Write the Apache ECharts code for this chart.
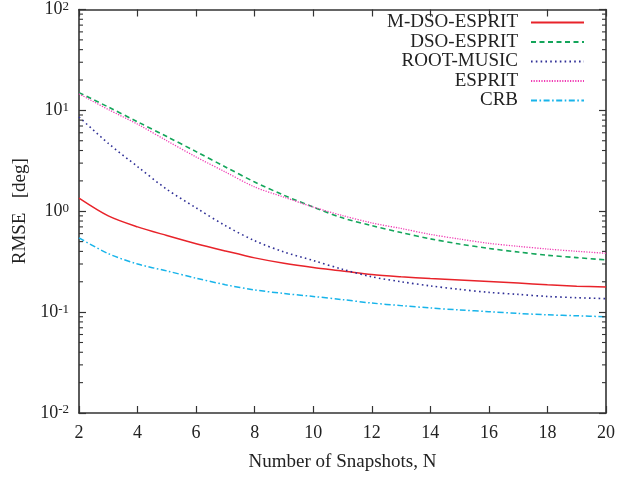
<!DOCTYPE html>
<html>
<head>
<meta charset="utf-8">
<script src="https://cdn.jsdelivr.net/npm/echarts@6/dist/echarts.min.js"></script>
<style>
  html, body { margin: 0; padding: 0; background: #fff; }
  #chart { width: 618px; height: 477px; }
</style>
</head>
<body>
<div id="chart"></div>
<script>
// Number of snapshots N
const snapshots = [2, 3, 4, 5, 6, 7, 8, 9, 10, 11, 12, 13, 14, 15, 16, 17, 18, 19, 20];
// RMSE [deg] per method
const mDsoEsprit = [1.35, 0.90, 0.70, 0.575, 0.477, 0.404, 0.345, 0.305, 0.277, 0.256, 0.236, 0.224, 0.215, 0.208, 0.201, 0.194, 0.187, 0.181, 0.177];
const dsoEsprit  = [15.0, 10.8, 7.7, 5.5, 3.9, 2.75, 1.95, 1.44, 1.10, 0.86, 0.72, 0.615, 0.533, 0.473, 0.428, 0.394, 0.366, 0.347, 0.329];
const rootMusic  = [8.6, 4.71, 2.77, 1.65, 1.08, 0.72, 0.51, 0.395, 0.325, 0.266, 0.224, 0.20, 0.182, 0.168, 0.157, 0.150, 0.143, 0.139, 0.136];
const esprit     = [14.6, 10.2, 7.3, 5.0, 3.45, 2.45, 1.74, 1.38, 1.10, 0.906, 0.767, 0.675, 0.59, 0.53, 0.481, 0.449, 0.422, 0.401, 0.383];
const crb        = [0.545, 0.38, 0.30, 0.256, 0.217, 0.187, 0.166, 0.153, 0.143, 0.133, 0.123, 0.116, 0.110, 0.105, 0.101, 0.097, 0.094, 0.092, 0.090];

const seriesNames = ['M-DSO-ESPRIT', 'DSO-ESPRIT', 'ROOT-MUSIC', 'ESPRIT', 'CRB'];
const yDecades = [0.01, 0.1, 1, 10, 100];
const minorMultipliers = [2, 3, 4, 5, 6, 7, 8, 9];

const FONT = 'Liberation Serif';
const TEXT_COLOR = '#222';
const AXIS_COLOR = '#333';

// minor ticks of the log axis: 2..9 x each decade
const minorTickValues = [];
for (let d = 0; d < yDecades.length - 1; d++) {
  for (const m of minorMultipliers) minorTickValues.push(m * yDecades[d]);
}

function pairs(ys) { return snapshots.map((n, i) => [n, ys[i]]); }

function lineSeries(name, ys, color, type, width) {
  return {
    name, type: 'line', data: pairs(ys),
    smooth: 0.3,
    showSymbol: false, symbol: 'none',
    lineStyle: { color, width, type },
    itemStyle: { color },
    emphasis: { disabled: true },
    z: 3
  };
}

const chart = echarts.init(document.getElementById('chart'), null, { renderer: 'canvas' });

const axisLineStyle = { lineStyle: { color: AXIS_COLOR, width: 1.6 } };
const majorTick = { inside: true, length: 7, lineStyle: { color: AXIS_COLOR, width: 1.2 } };

chart.setOption({
  animation: false,
  backgroundColor: '#fff',
  grid: { left: 79, right: 10, top: 7, bottom: 64, containLabel: false },
  legend: {
    orient: 'vertical', align: 'right', right: 33, top: 13, padding: 0,
    itemWidth: 53, itemHeight: 10, itemGap: 0.5,
    itemStyle: { opacity: 0 },
    textStyle: { fontFamily: FONT, fontSize: 19, color: TEXT_COLOR, padding: [0, 8, 0, 0] },
    data: seriesNames
  },
  xAxis: [{
    type: 'value', min: 2, max: 20, interval: 2,
    name: 'Number of Snapshots, N', nameLocation: 'middle', nameGap: 40,
    nameTextStyle: { fontFamily: FONT, fontSize: 19, color: TEXT_COLOR },
    axisLine: axisLineStyle,
    axisTick: majorTick,
    axisLabel: { fontFamily: FONT, fontSize: 18, color: TEXT_COLOR, margin: 11 },
    splitLine: { show: false }
  }, {
    type: 'value', min: 2, max: 20, interval: 2, position: 'top',
    axisLine: axisLineStyle,
    axisTick: majorTick,
    axisLabel: { show: false },
    splitLine: { show: false }
  }],
  yAxis: [{
    type: 'log', logBase: 10, min: 0.01, max: 100,
    name: 'RMSE   [deg]', nameLocation: 'middle', nameGap: 47,
    nameTextStyle: { fontFamily: FONT, fontSize: 19, color: TEXT_COLOR },
    axisLine: axisLineStyle,
    axisTick: majorTick,
    axisLabel: {
      margin: 10,
      formatter: v => '{b|10}{s|' + Math.round(Math.log10(v)) + '}',
      rich: {
        b: { fontFamily: FONT, fontSize: 18, color: TEXT_COLOR },
        s: { fontFamily: FONT, fontSize: 13, color: TEXT_COLOR, verticalAlign: 'bottom', padding: [0, 0, 6, 0] }
      }
    },
    splitLine: { show: false }
  }, {
    type: 'log', logBase: 10, min: 0.01, max: 100, position: 'right',
    axisLine: axisLineStyle,
    axisTick: majorTick,
    axisLabel: { show: false },
    splitLine: { show: false }
  }],
  series: [
    lineSeries('M-DSO-ESPRIT', mDsoEsprit, '#e8232a', 'solid', 1.5),
    lineSeries('DSO-ESPRIT', dsoEsprit, '#13a55a', [5, 3.5], 1.6),
    lineSeries('ROOT-MUSIC', rootMusic, '#2f2f96', [1.6, 3.2], 1.6),
    lineSeries('ESPRIT', esprit, '#f03cb4', [1.2, 1.4], 1.3),
    lineSeries('CRB', crb, '#18b4ea', [6, 2.5, 1.6, 2.5], 1.5),
    {
      // minor ticks on the left and right log axes
      name: 'minorTicks', type: 'custom', silent: true, clip: false, z: 4,
      data: minorTickValues.map(v => [2, v]),
      encode: { x: 0, y: 1 },
      renderItem: (params, api) => {
        const cs = params.coordSys;
        const y = api.coord([2, api.value(1)])[1];
        const style = { stroke: AXIS_COLOR, lineWidth: 1.1 };
        return {
          type: 'group',
          children: [
            { type: 'line', shape: { x1: cs.x, y1: y, x2: cs.x + 4, y2: y }, style },
            { type: 'line', shape: { x1: cs.x + cs.width - 4, y1: y, x2: cs.x + cs.width, y2: y }, style }
          ]
        };
      }
    }
  ]
});
</script>
</body>
</html>
